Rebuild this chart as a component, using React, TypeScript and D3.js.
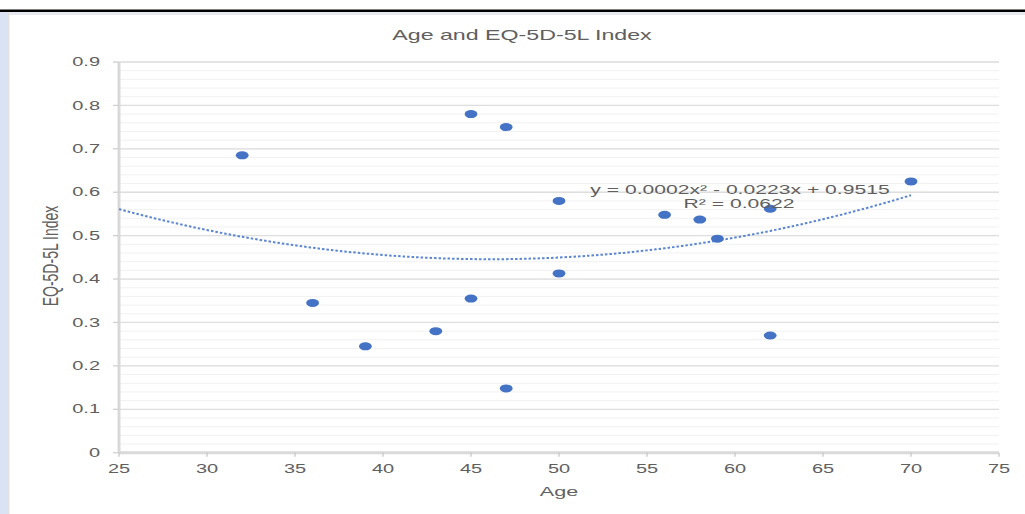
import * as d3 from 'd3';

// Age (x) and EQ-5D-5L index (y) per respondent
const ages = [32, 36, 39, 43, 45, 45, 47, 47, 50, 50, 56, 58, 59, 62, 62, 70];
const indexValues = [0.685, 0.345, 0.245, 0.28, 0.78, 0.355, 0.75, 0.148, 0.58, 0.413, 0.548, 0.537, 0.493, 0.562, 0.27, 0.625];

const xTicks = [25, 30, 35, 40, 45, 50, 55, 60, 65, 70, 75];
const yTicks = [0, 0.1, 0.2, 0.3, 0.4, 0.5, 0.6, 0.7, 0.8, 0.9];
const yMinorTicks = d3.range(0, 0.9001, 0.02);
const trendRange = [25, 70];

const title = 'Age and EQ-5D-5L Index';
const xTitle = 'Age';
const yTitle = 'EQ-5D-5L Index';
const equation = ['y = 0.0002x² - 0.0223x + 0.9515', 'R² = 0.0622'];

// polynomial (order 2) least squares, like the spreadsheet trendline
function quadFit(xs: number[], ys: number[]) {
  const S = (f: (x: number, y: number) => number) => d3.sum(xs, (x, i) => f(x, ys[i]));
  const n = xs.length;
  const sx = S(x => x), sx2 = S(x => x * x), sx3 = S(x => x ** 3), sx4 = S(x => x ** 4);
  const sy = S((x, y) => y), sxy = S((x, y) => x * y), sx2y = S((x, y) => x * x * y);
  // solve [[sx4,sx3,sx2],[sx3,sx2,sx],[sx2,sx,n]] * [a,b,c] = [sx2y,sxy,sy]
  const M = [
    [sx4, sx3, sx2, sx2y],
    [sx3, sx2, sx, sxy],
    [sx2, sx, n, sy],
  ];
  for (let i = 0; i < 3; i++) {
    for (let j = i + 1; j < 3; j++) {
      const f = M[j][i] / M[i][i];
      for (let k = i; k < 4; k++) M[j][k] -= f * M[i][k];
    }
  }
  const r = [0, 0, 0];
  for (let i = 2; i >= 0; i--) {
    let s = M[i][3];
    for (let k = i + 1; k < 3; k++) s -= M[i][k] * r[k];
    r[i] = s / M[i][i];
  }
  return (x: number) => r[0] * x * x + r[1] * x + r[2];
}

const W = 1025;
const H = 514;
const SX = 1.6; // the picture is stretched sideways
const font = '"Liberation Sans", Arial, sans-serif';
const textGray = '#606060';

export default function App() {
  const x = d3.scaleLinear().domain([25, 75]).range([119, 999]);
  const y = d3.scaleLinear().domain([0, 0.9]).range([452.7, 62]);

  const fit = quadFit(ages, indexValues);
  const trendXs = d3.range(trendRange[0], trendRange[1] + 0.01, 0.5);
  const trendLine = d3.line<number>().x(d => x(d)).y(d => y(fit(d)))(trendXs) || '';

  const label = (tx: number, ty: number, text: string, size: number, anchor = 'middle', extra = '') => (
    <text
      transform={`translate(${tx},${ty}) scale(${SX},1)${extra}`}
      textAnchor={anchor}
      dominantBaseline="central"
      fontSize={size}
      fontFamily={font}
      fill={textGray}
    >
      {text}
    </text>
  );

  return (
    <svg width={W} height={H} style={{ position: 'absolute', left: 0, top: 0, background: '#fff' }}>
      {/* page frame */}
      <rect x={0} y={12} width={8} height={H - 12} fill="#dae3f3" />
      <rect x={8} y={12} width={W - 8} height={3} fill="#e6e9ef" />
      <rect x={8} y={12} width={1.5} height={H - 12} fill="#e2e2e2" />
      <rect x={0} y={9.5} width={W} height={2.5} fill="#000" />

      {/* minor gridlines */}
      {yMinorTicks.map((t, i) => (
        <line key={'m' + i} x1={x(25)} x2={x(75)} y1={y(t)} y2={y(t)} stroke="#f1f1f1" strokeWidth={1} />
      ))}
      {/* major gridlines */}
      {yTicks.map(t => (
        <line key={'g' + t} x1={x(25)} x2={x(75)} y1={y(t)} y2={y(t)} stroke="#dedede" strokeWidth={1.3} />
      ))}

      {/* axes */}
      <line x1={x(25)} x2={x(25)} y1={y(0.9)} y2={y(0)} stroke="#d9d9d9" strokeWidth={3} />
      <line x1={x(25)} x2={x(75)} y1={y(0)} y2={y(0)} stroke="#d9d9d9" strokeWidth={3} />
      {yTicks.map(t => (
        <line key={'yt' + t} x1={x(25) - 6} x2={x(25)} y1={y(t)} y2={y(t)} stroke="#d0d0d0" strokeWidth={1.3} />
      ))}
      {xTicks.map(t => (
        <line key={'xt' + t} x1={x(t)} x2={x(t)} y1={y(0)} y2={y(0) + 4} stroke="#c8c8c8" strokeWidth={1.3} />
      ))}

      {/* tick labels */}
      {yTicks.map(t => label(100, y(t), d3.format('')(t), 12.5, 'end'))}
      {xTicks.map(t => label(x(t), 469, String(t), 12.5))}

      {/* titles */}
      {label(522, 35, title, 14.5)}
      {label(559, 492, xTitle, 13.5)}
      {label(50, 256, yTitle, 14, 'middle', ' rotate(-90)')}

      {/* trendline */}
      <path d={trendLine} fill="none" stroke="#5b86d2" strokeWidth={2} strokeDasharray="2.5,2" />

      {/* points */}
      {ages.map((a, i) => (
        <ellipse key={'p' + i} cx={x(a)} cy={y(indexValues[i])} rx={6.4} ry={4} fill="#4472c4" />
      ))}

      {/* trendline label */}
      {label(740, 190, equation[0], 13.2)}
      {label(739, 204, equation[1], 13.2)}
    </svg>
  );
}
